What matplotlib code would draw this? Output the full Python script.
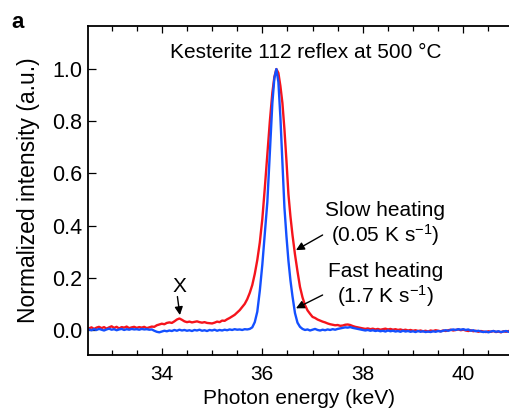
import numpy as np
import matplotlib.pyplot as plt
from matplotlib.ticker import MultipleLocator

plt.rcParams['font.family'] = ['Liberation Sans', 'DejaVu Sans']
plt.rcParams['mathtext.fontset'] = 'custom'
plt.rcParams['mathtext.rm'] = 'Liberation Sans'
plt.rcParams['mathtext.it'] = 'Liberation Sans:italic'

# photon energy grid (keV), shared by both scans
energy = [
    32.55, 32.60, 32.65, 32.70, 32.75, 32.80, 32.85, 32.90, 32.95, 33.00,
    33.05, 33.10, 33.15, 33.20, 33.25, 33.30, 33.35, 33.40, 33.45, 33.50,
    33.55, 33.60, 33.65, 33.70, 33.75, 33.80, 33.85, 33.90, 33.95, 34.00,
    34.05, 34.10, 34.15, 34.20, 34.25, 34.30, 34.35, 34.40, 34.45, 34.50,
    34.55, 34.60, 34.65, 34.70, 34.75, 34.80, 34.85, 34.90, 34.95, 35.00,
    35.05, 35.10, 35.15, 35.20, 35.25, 35.30, 35.35, 35.40, 35.45, 35.50,
    35.55, 35.60, 35.65, 35.70, 35.75, 35.80, 35.85, 35.90, 35.95, 36.00,
    36.05, 36.10, 36.15, 36.20,
    36.24, 36.28, 36.32, 36.36, 36.40, 36.44, 36.48, 36.52, 36.56, 36.60,
    36.65, 36.70, 36.75, 36.80, 36.85, 36.90, 36.95, 37.00, 37.05, 37.10,
    37.15, 37.20, 37.25, 37.30, 37.35, 37.40, 37.45, 37.50, 37.55, 37.60,
    37.65, 37.70, 37.75, 37.80, 37.85, 37.90, 37.95, 38.00, 38.05, 38.10,
    38.15, 38.20, 38.25, 38.30, 38.35, 38.40, 38.45, 38.50, 38.55, 38.60,
    38.65, 38.70, 38.75, 38.80, 38.85, 38.90, 38.95, 39.00, 39.05, 39.10,
    39.15, 39.20, 39.25, 39.30, 39.35, 39.40, 39.45, 39.50, 39.55, 39.60,
    39.65, 39.70, 39.75, 39.80, 39.85, 39.90, 39.95, 40.00, 40.05, 40.10,
    40.15, 40.20, 40.25, 40.30, 40.35, 40.40, 40.45, 40.50, 40.55, 40.60,
    40.65, 40.70, 40.75, 40.80, 40.85, 40.90, 40.95,
]

# slow heating (0.05 K/s)
slow = [
    0.006, 0.010, 0.004, 0.009, 0.012, 0.007, 0.011, 0.005, 0.010, 0.014,
    0.008, 0.012, 0.006, 0.011, 0.009, 0.013, 0.007, 0.010, 0.012, 0.008,
    0.011, 0.009, 0.012, 0.007, 0.010, 0.013, 0.012, 0.018, 0.021, 0.024,
    0.022, 0.027, 0.029, 0.027, 0.033, 0.040, 0.044, 0.039, 0.033, 0.030,
    0.032, 0.029, 0.031, 0.033, 0.030, 0.028, 0.030, 0.027, 0.026, 0.025,
    0.028, 0.032, 0.030, 0.036, 0.035, 0.041, 0.046, 0.052, 0.058, 0.067,
    0.076, 0.088, 0.100, 0.118, 0.142, 0.172, 0.215, 0.268, 0.335, 0.425,
    0.545, 0.675, 0.800, 0.910,
    0.970, 1.000, 0.985, 0.935, 0.870, 0.770, 0.650, 0.520, 0.435, 0.365,
    0.290, 0.225, 0.165, 0.125, 0.095, 0.075, 0.062, 0.050, 0.046, 0.040,
    0.036, 0.032, 0.029, 0.025, 0.022, 0.020, 0.018, 0.019, 0.016, 0.017,
    0.020, 0.021, 0.019, 0.015, 0.012, 0.010, 0.008, 0.006, 0.004, 0.006,
    0.003, 0.005, 0.002, 0.004, 0.001, 0.003, 0.005, 0.002, 0.004, 0.001,
    0.003, 0.000, 0.002, -0.001, 0.001, -0.002, 0.000, -0.003, -0.001, -0.004,
    -0.002, -0.005, -0.003, -0.006, -0.002, -0.004, -0.001, -0.003, -0.005, -0.002,
    -0.004, -0.001, 0.001, -0.002, 0.000, 0.002, -0.001, 0.001, -0.002, -0.004,
    -0.001, -0.005, -0.003, -0.007, -0.004, -0.006, -0.008, -0.005, -0.007, -0.004,
    -0.008, -0.006, -0.009, -0.005, -0.007, -0.004, -0.006,
]

# fast heating (1.7 K/s)
fast = [
    0.002, -0.001, 0.003, 0.000, 0.004, 0.001, -0.002, 0.002, 0.005, 0.001,
    0.003, -0.001, 0.002, 0.004, 0.000, 0.003, 0.001, 0.004, 0.002, 0.003,
    0.001, 0.004, 0.002, 0.003, 0.001, 0.002, -0.003, -0.007, -0.009, -0.006,
    -0.003, -0.005, -0.002, -0.004, 0.000, -0.003, 0.001, -0.002, 0.000, -0.003,
    -0.001, -0.004, 0.000, -0.002, 0.001, -0.003, -0.001, -0.004, 0.000, -0.002,
    0.001, -0.003, 0.000, -0.002, 0.001, -0.001, 0.002, 0.000, 0.003, 0.001,
    0.002, 0.000, 0.003, 0.002, 0.004, 0.010, 0.030, 0.070, 0.150, 0.250,
    0.370, 0.490, 0.680, 0.870,
    0.965, 1.000, 0.950, 0.815, 0.640, 0.470, 0.360, 0.265, 0.190, 0.130,
    0.065, 0.028, 0.012, 0.004, 0.000, 0.002, -0.002, 0.001, 0.004, 0.000,
    -0.002, 0.001, -0.001, 0.002, 0.000, 0.003, 0.001, 0.004, 0.006, 0.008,
    0.010, 0.009, 0.011, 0.008, 0.006, 0.004, 0.002, 0.000, -0.002, 0.000,
    -0.003, -0.001, -0.004, -0.002, -0.005, -0.003, -0.006, -0.002, -0.005, -0.003,
    -0.006, -0.004, -0.007, -0.003, -0.006, -0.004, -0.007, -0.005, -0.008, -0.004,
    -0.007, -0.005, -0.008, -0.006, -0.008, -0.005, -0.007, -0.004, -0.006, -0.003,
    -0.001, -0.003, 0.000, 0.002, 0.000, 0.003, 0.001, 0.003, 0.000, 0.002,
    -0.003, -0.001, -0.005, -0.003, -0.006, -0.008, -0.006, -0.009, -0.006, -0.004,
    -0.007, -0.005, -0.008, -0.006, -0.004, -0.007, -0.005,
]

x_ticks = [34, 36, 38, 40]
y_ticks = [0.0, 0.2, 0.4, 0.6, 0.8, 1.0]

RED = '#f5141c'
BLUE = '#1450ff'

fig = plt.figure(figsize=(5.10, 4.13), dpi=100)
ax = fig.add_axes([0.1725, 0.1404, 0.8275, 0.7966])

ax.plot(energy, slow, color=RED, lw=1.7)
ax.plot(energy, fast, color=BLUE, lw=1.7)

ax.set_xlim(32.53, 40.93)
ax.set_ylim(-0.096, 1.165)
ax.set_xticks(x_ticks)
ax.xaxis.set_minor_locator(MultipleLocator(0.5))
ax.set_yticks(y_ticks)
ax.set_yticklabels(['%.1f' % v for v in y_ticks])

ax.spines['right'].set_visible(False)
for s in ['left', 'bottom', 'top']:
    ax.spines[s].set_linewidth(1.3)
ax.tick_params(axis='x', which='both', direction='in', top=True, bottom=True,
               labelsize=15, pad=7, width=0.9)
ax.tick_params(axis='x', which='major', length=5)
ax.tick_params(axis='x', which='minor', length=3.6)
ax.tick_params(axis='y', which='major', direction='in', length=5.5, width=0.9,
               labelsize=15.5, pad=4, right=False)

ax.set_xlabel('Photon energy (keV)', fontsize=15, labelpad=4)
ax.set_ylabel('Normalized intensity (a.u.)', fontsize=16.5, labelpad=9)

ax.text(36.86, 1.065, 'Kesterite 112 reflex at 500 °C', fontsize=15,
        ha='center', va='center')

ax.text(38.45, 0.405, 'Slow heating\n(0.05 K s$^{-1}$)', fontsize=15,
        ha='center', va='center', linespacing=1.1)
ax.text(38.45, 0.17, 'Fast heating\n(1.7 K s$^{-1}$)', fontsize=15,
        ha='center', va='center', linespacing=1.1)

arrow = dict(arrowstyle='-|>', color='black', lw=1.0, mutation_scale=12,
             shrinkA=0, shrinkB=0)
ax.annotate('', xy=(36.67, 0.306), xytext=(37.2, 0.364), arrowprops=arrow)
ax.annotate('', xy=(36.67, 0.083), xytext=(37.2, 0.134), arrowprops=arrow)
ax.annotate('', xy=(34.36, 0.057), xytext=(34.31, 0.128), arrowprops=arrow)
ax.text(34.35, 0.166, 'X', fontsize=15, ha='center', va='center')

fig.text(0.022, 0.972, 'a', fontsize=16, fontweight='bold', ha='left', va='top')

fig.savefig('out.png', dpi=100)
